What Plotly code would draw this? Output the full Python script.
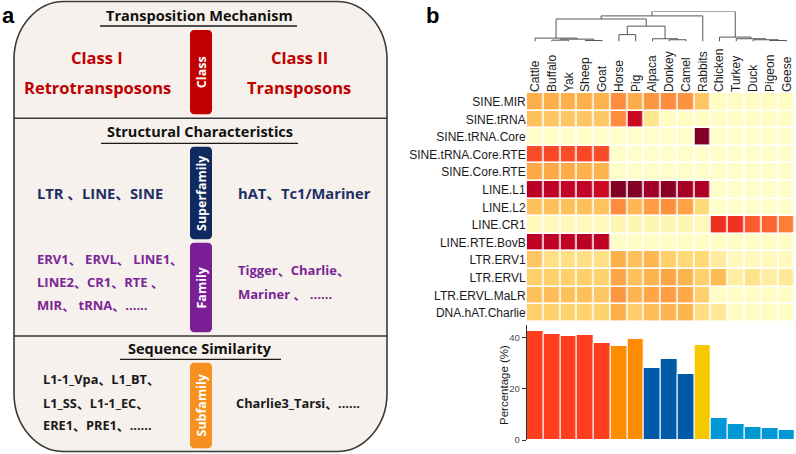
import plotly.graph_objects as go

# ---------------- data ----------------
species = ["Cattle", "Buffalo", "Yak", "Sheep", "Goat", "Horse", "Pig", "Alpaca",
           "Donkey", "Camel", "Rabbits", "Chicken", "Turkey", "Duck", "Pigeon", "Geese"]

te_families = ["SINE.MIR", "SINE.tRNA", "SINE.tRNA.Core", "SINE.tRNA.Core.RTE",
               "SINE.Core.RTE", "LINE.L1", "LINE.L2", "LINE.CR1", "LINE.RTE.BovB",
               "LTR.ERV1", "LTR.ERVL", "LTR.ERVL.MaLR", "DNA.hAT.Charlie"]

# relative abundance (scaled 0-1) per TE family (rows) x species (columns)
sine_mir        = [0.39, 0.39, 0.39, 0.38, 0.37, 0.50, 0.40, 0.47, 0.50, 0.48, 0.31, 0.03, 0.03, 0.03, 0.03, 0.03]
sine_trna       = [0.33, 0.31, 0.31, 0.31, 0.30, 0.50, 0.84, 0.17, 0.03, 0.03, 0.03, 0.02, 0.02, 0.02, 0.02, 0.02]
sine_trna_core  = [0.01, 0.01, 0.01, 0.01, 0.01, 0.01, 0.01, 0.01, 0.01, 0.01, 1.00, 0.01, 0.01, 0.01, 0.01, 0.01]
sine_trna_rte   = [0.63, 0.64, 0.63, 0.64, 0.63, 0.01, 0.01, 0.01, 0.01, 0.01, 0.01, 0.01, 0.01, 0.01, 0.01, 0.01]
sine_core_rte   = [0.41, 0.41, 0.40, 0.38, 0.37, 0.01, 0.01, 0.01, 0.01, 0.01, 0.01, 0.01, 0.01, 0.01, 0.01, 0.01]
line_l1         = [0.88, 0.87, 0.86, 0.86, 0.83, 1.00, 0.99, 0.93, 0.98, 0.92, 0.90, 0.01, 0.01, 0.01, 0.01, 0.01]
line_l2         = [0.33, 0.33, 0.33, 0.33, 0.32, 0.50, 0.36, 0.45, 0.49, 0.43, 0.24, 0.01, 0.01, 0.01, 0.01, 0.01]
line_cr1        = [0.04, 0.04, 0.04, 0.04, 0.04, 0.07, 0.07, 0.07, 0.07, 0.07, 0.05, 0.70, 0.69, 0.60, 0.58, 0.53]
line_rte_bovb   = [0.87, 0.87, 0.87, 0.88, 0.87, 0.02, 0.02, 0.02, 0.02, 0.02, 0.02, 0.02, 0.02, 0.02, 0.02, 0.02]
ltr_erv1        = [0.31, 0.20, 0.20, 0.20, 0.20, 0.38, 0.33, 0.36, 0.28, 0.25, 0.25, 0.13, 0.04, 0.04, 0.04, 0.04]
ltr_ervl        = [0.28, 0.28, 0.28, 0.28, 0.27, 0.42, 0.33, 0.37, 0.42, 0.37, 0.28, 0.35, 0.12, 0.19, 0.12, 0.15]
ltr_ervl_malr   = [0.33, 0.34, 0.33, 0.33, 0.31, 0.47, 0.37, 0.42, 0.45, 0.41, 0.28, 0.02, 0.02, 0.02, 0.02, 0.02]
dna_hat_charlie = [0.28, 0.27, 0.27, 0.27, 0.27, 0.38, 0.29, 0.34, 0.37, 0.37, 0.22, 0.15, 0.03, 0.03, 0.03, 0.03]

heat_rows = [sine_mir, sine_trna, sine_trna_core, sine_trna_rte, sine_core_rte, line_l1,
             line_l2, line_cr1, line_rte_bovb, ltr_erv1, ltr_ervl, ltr_ervl_malr, dna_hat_charlie]

# total TE percentage per species
percentage = [42.7, 41.3, 40.7, 40.9, 37.8, 36.9, 39.4, 28.3, 31.6, 25.9, 37.3, 8.7, 6.4, 5.1, 4.7, 4.0]

# hierarchical clustering (leaf index / new cluster id, leaf index / cluster id, height)
linkage = [
    (1, 2, 1.3), (3, 4, 1.0), (16, 17, 2.3), (0, 18, 3.3),
    (5, 6, 6.7), (8, 9, 1.7), (7, 21, 2.7), (20, 22, 15.0),
    (19, 23, 22.0), (24, 10, 25.0),
    (14, 15, 1.0), (13, 26, 1.7), (12, 27, 2.7), (11, 28, 4.3),
    (25, 29, 29.3),
]

# ---------------- styles ----------------
bar_colors = ["#FF3D1F"] * 5 + ["#FF8C00"] * 2 + ["#005AA7"] * 3 + ["#F5C800"] + ["#0097D7"] * 5
ylorrd = [[0.0, "#ffffcc"], [0.125, "#ffeda0"], [0.25, "#fed976"], [0.375, "#feb24c"],
          [0.5, "#fd8d3c"], [0.625, "#fc4e2a"], [0.75, "#e31a1c"], [0.875, "#bd0026"],
          [1.0, "#800026"]]

W, H = 796, 454


def px(x):
    return x / W


def py(y):
    return 1 - y / H


def rrect(x0, y0, x1, y1, rx, ry):
    k = 0.45
    pts = [
        f"M{px(x0 + rx)},{py(y0)}",
        f"L{px(x1 - rx)},{py(y0)}",
        f"C{px(x1 - rx * k)},{py(y0)} {px(x1)},{py(y0 + ry * k)} {px(x1)},{py(y0 + ry)}",
        f"L{px(x1)},{py(y1 - ry)}",
        f"C{px(x1)},{py(y1 - ry * k)} {px(x1 - rx * k)},{py(y1)} {px(x1 - rx)},{py(y1)}",
        f"L{px(x0 + rx)},{py(y1)}",
        f"C{px(x0 + rx * k)},{py(y1)} {px(x0)},{py(y1 - ry * k)} {px(x0)},{py(y1 - ry)}",
        f"L{px(x0)},{py(y0 + ry)}",
        f"C{px(x0)},{py(y0 + ry * k)} {px(x0 + rx * k)},{py(y0)} {px(x0 + rx)},{py(y0)}",
        "Z",
    ]
    return " ".join(pts)


fig = go.Figure()

# heatmap
fig.add_trace(go.Heatmap(
    z=heat_rows, x=species, y=te_families, colorscale=ylorrd, zmin=0, zmax=1,
    xgap=1.6, ygap=1.6, showscale=False, xaxis="x", yaxis="y", hoverinfo="skip"))

# bars
fig.add_trace(go.Bar(
    x=species, y=percentage, marker=dict(color=bar_colors, line=dict(color="white", width=1)),
    xaxis="x2", yaxis="y2", showlegend=False, hoverinfo="skip"))

# dendrogram
n = len(species)
cx = {i: float(i) for i in range(n)}
ch = {i: 0.0 for i in range(n)}
dx, dy = [], []
for k, (a, b, h) in enumerate(linkage):
    cid = n + k
    dx += [cx[a], cx[a], cx[b], cx[b], None]
    dy += [ch[a], h, h, ch[b], None]
    cx[cid] = (cx[a] + cx[b]) / 2
    ch[cid] = h
fig.add_trace(go.Scatter(x=dx, y=dy, mode="lines", line=dict(color="#555555", width=1),
                         xaxis="x3", yaxis="y3", showlegend=False, hoverinfo="skip"))

xdom = [px(526.7), px(795)]
AR = "Liberation Sans, Arial, sans-serif"
fig.update_layout(
    width=W, height=H, margin=dict(l=0, r=0, t=0, b=0),
    paper_bgcolor="white", plot_bgcolor="rgba(0,0,0,0)",
    showlegend=False, bargap=0,
    xaxis=dict(domain=xdom, side="top", tickangle=-90, ticks="", showgrid=False,
               zeroline=False, showline=False, tickfont=dict(family=AR, size=12, color="#1a1a1a"),
               anchor="y", automargin=False),
    yaxis=dict(domain=[py(321.7), py(93)], autorange="reversed", ticks="", showgrid=False,
               zeroline=False, showline=False, tickfont=dict(family=AR, size=12, color="#1a1a1a"),
               anchor="x", automargin=False),
    xaxis2=dict(domain=xdom, range=[-0.5, 15.5], showticklabels=False, ticks="", showgrid=False,
                zeroline=False, showline=False, anchor="y2"),
    yaxis2=dict(domain=[py(440), py(325)], range=[0, 45], tickvals=[0, 20, 40], ticks="outside",
                ticklen=4, tickcolor="#333333", showline=True, linecolor="#333333", linewidth=1,
                showgrid=False, zeroline=False, anchor="x2",
                tickfont=dict(family=AR, size=9.5, color="#4d4d4d"), automargin=False),
    xaxis3=dict(domain=xdom, range=[-0.5, 15.5], visible=False, anchor="y3"),
    yaxis3=dict(domain=[py(41.5), py(11.5)], range=[0, 29.3], visible=False, anchor="x3"),
)

shapes = []
annotations = []

# ---------- panel a ----------
shapes.append(dict(type="path", path=rrect(14, 1.5, 387, 451.5, 50, 58), xref="paper", yref="paper",
                   fillcolor="#F6F1EC", line=dict(color="#3a3a3a", width=1.6), layer="below"))
for yy in (118.3, 336):
    shapes.append(dict(type="line", x0=px(14), x1=px(387), y0=py(yy), y1=py(yy),
                       xref="paper", yref="paper", line=dict(color="#3a3a3a", width=1.6)))
for (x0, x1, yy) in ((100, 297, 26), (101, 298, 143.3), (120, 281, 359.3)):
    shapes.append(dict(type="line", x0=px(x0), x1=px(x1), y0=py(yy), y1=py(yy),
                       xref="paper", yref="paper", line=dict(color="#1a1a1a", width=1.3)))

side_boxes = [("Class", 30, 114.3, "#C00000"), ("Superfamily", 146.7, 239.3, "#0E2A5E"),
              ("Family", 242.7, 332.3, "#7B1F96"), ("Subfamily", 362.7, 448.3, "#F7901E")]
LF = "Open Sans, Noto Sans CJK SC, sans-serif"
for label, y0, y1, col in side_boxes:
    shapes.append(dict(type="path", path=rrect(190, y0, 212, y1, 4, 4), xref="paper", yref="paper",
                       fillcolor=col, line=dict(width=0)))
    annotations.append(dict(x=px(201), y=py((y0 + y1) / 2), xref="paper", yref="paper",
                            text=f"<b>{label}</b>", textangle=-90, showarrow=False,
                            font=dict(family=LF, size=12.5, color="white"),
                            xanchor="center", yanchor="middle"))


def txt(x, y, s, size, color, anchor="center"):
    annotations.append(dict(x=px(x), y=py(y), xref="paper", yref="paper", text=f"<b>{s}</b>",
                            showarrow=False, font=dict(family=LF, size=size, color=color),
                            xanchor=anchor, yanchor="middle"))


txt(200, 15.5, "Transposition Mechanism", 14.5, "#111111")
txt(200, 131, "Structural Characteristics", 14.5, "#111111")
txt(200, 348.5, "Sequence Similarity", 14.5, "#111111")

RED = "#C00000"
txt(97, 57.5, "Class I", 16.5, RED)
txt(97, 87.5, "Retrotransposons", 16.5, RED)
txt(299, 57.5, "Class II", 16.5, RED)
txt(299, 87.5, "Transposons", 16.5, RED)

NAVY = "#1F2F64"
txt(35, 192.5, "LTR 、LINE、SINE", 14.7, NAVY, "left")
txt(236, 192.5, "hAT、Tc1/Mariner", 14.7, NAVY, "left")

PUR = "#7B2596"
txt(35, 258.5, "ERV1、 ERVL、 LINE1、", 13, PUR, "left")
txt(35, 282, "LINE2、CR1、RTE 、", 13, PUR, "left")
txt(35, 305, "MIR、 tRNA、......", 13, PUR, "left")
txt(236, 270, "Tigger、Charlie、", 13, PUR, "left")
txt(236, 294, "Mariner 、 ......", 13, PUR, "left")

BLK = "#1a1a1a"
txt(41, 379, "L1-1_Vpa、L1_BT、", 12.8, BLK, "left")
txt(41, 402.5, "L1_SS、L1-1_EC、", 12.8, BLK, "left")
txt(41, 425, "ERE1、PRE1、......", 12.8, BLK, "left")
txt(234, 402.5, "Charlie3_Tarsi、......", 12.8, BLK, "left")

# panel letters
annotations.append(dict(x=px(0), y=py(15), xref="paper", yref="paper", text="<b>a</b>",
                        showarrow=False, font=dict(family=AR, size=22, color="black"),
                        xanchor="left", yanchor="middle"))
annotations.append(dict(x=px(424), y=py(15), xref="paper", yref="paper", text="<b>b</b>",
                        showarrow=False, font=dict(family=AR, size=22, color="black"),
                        xanchor="left", yanchor="middle"))

# bar axis title
annotations.append(dict(x=px(504), y=py(385), xref="paper", yref="paper", text="Percentage (%)",
                        textangle=-90, showarrow=False, font=dict(family=AR, size=11.5, color="#1a1a1a"),
                        xanchor="center", yanchor="middle"))

fig.update_layout(shapes=shapes, annotations=annotations)
fig.write_html("out.html", config={"displayModeBar": False},
               post_script="document.body.style.margin='0';document.body.style.overflow='hidden';")
